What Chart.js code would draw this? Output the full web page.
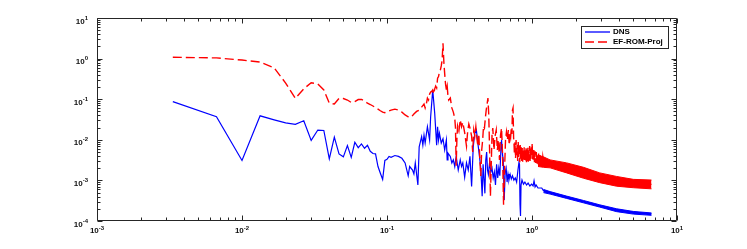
<!DOCTYPE html>
<html>
<head>
<meta charset="utf-8">
<script src="https://cdn.jsdelivr.net/npm/chart.js@4.4.0/dist/chart.umd.min.js"></script>
<style>
  html, body { margin: 0; padding: 0; background: #fff; }
</style>
</head>
<body>
<canvas id="spectrum" width="747" height="249"></canvas>
<script>
// DNS spectrum (frequency, amplitude)
const dnsFreq = [
  0.003333, 0.006667, 0.01, 0.01333, 0.01667, 0.02, 0.02333, 0.02667, 0.03, 0.03333,
  0.03667, 0.04, 0.04333, 0.04667, 0.05, 0.05333, 0.05667, 0.06, 0.06333, 0.06667,
  0.07, 0.07333, 0.07667, 0.08, 0.08333, 0.08667, 0.09, 0.09333, 0.09667, 0.1,
  0.1033, 0.1067, 0.1133, 0.12, 0.1267, 0.1333, 0.14, 0.1433, 0.15, 0.1533,
  0.1567, 0.1633, 0.1667, 0.1733, 0.1767, 0.18, 0.1833, 0.19, 0.1967, 0.2,
  0.2067, 0.21, 0.2133, 0.22, 0.2233, 0.2267, 0.23, 0.2367, 0.2433, 0.25,
  0.2567, 0.26, 0.2633, 0.2733, 0.28, 0.2867, 0.2933, 0.3, 0.31, 0.32,
  0.3267, 0.3333, 0.3433, 0.3533, 0.3633, 0.3733, 0.3833, 0.3933, 0.4033, 0.4133,
  0.4233, 0.4333, 0.4433, 0.4533, 0.46, 0.4733, 0.48, 0.4867, 0.4933, 0.5,
  0.51, 0.52, 0.53, 0.54, 0.55, 0.56, 0.57, 0.58, 0.59, 0.6,
  0.61, 0.6167, 0.6267, 0.6333, 0.6433, 0.6533, 0.6633, 0.6733, 0.6833, 0.6933,
  0.7067, 0.72, 0.7333, 0.75, 0.7667, 0.7833, 0.8, 0.8133, 0.82, 0.8267,
  0.8333, 0.84, 0.8533, 0.8733, 0.8933, 0.9167, 0.94, 0.9667, 0.9933, 1.017,
  1.033, 1.05, 1.067, 1.1, 1.167, 1.2, 1.333, 1.733, 2.267, 2.933,
  3.833, 5.0, 6.667
];
const dnsAmp = [
  0.087, 0.037, 0.0031, 0.039, 0.031, 0.026, 0.024, 0.0295, 0.0097, 0.0174,
  0.017, 0.0034, 0.0116, 0.0045, 0.0038, 0.0072, 0.0037, 0.0087, 0.0064, 0.0079,
  0.0062, 0.0073, 0.0052, 0.0046, 0.0045, 0.0022, 0.0015, 0.00106, 0.0031, 0.0033,
  0.0039, 0.0037, 0.0041, 0.0039, 0.0035, 0.0027, 0.0013, 0.0022, 0.0018, 0.00144,
  0.0027, 0.00077, 0.0067, 0.012, 0.0074, 0.013, 0.0083, 0.021, 0.0099, 0.037,
  0.169, 0.087, 0.045, 0.0074, 0.021, 0.0099, 0.0145, 0.0083, 0.0106, 0.0056,
  0.0099, 0.0032, 0.0047, 0.0039, 0.0027, 0.0032, 0.0022, 0.0039, 0.0018, 0.0032,
  0.0022, 0.0027, 0.0012, 0.0027, 0.0018, 0.0039, 0.00071, 0.0067, 0.0145, 0.0174,
  0.0083, 0.0042, 0.002, 0.00041, 0.0025, 0.00048, 0.0032, 0.005, 0.0018, 0.0014,
  0.0028, 0.0016, 0.002, 0.00115, 0.0016, 0.00077, 0.0025, 0.00115, 0.002, 0.0013,
  0.0056, 0.0099, 0.0042, 0.0032, 0.00033, 0.0016, 0.002, 0.00091, 0.00144, 0.00102,
  0.0014, 0.00108, 0.0013, 0.00102, 0.00115, 0.00091, 0.0018, 0.0028, 0.0025, 0.00025,
  0.000133, 0.00077, 0.00102, 0.00081, 0.00091, 0.00077, 0.00086, 0.00073, 0.00081, 0.00073,
  0.00097, 0.00069, 0.00077, 0.00065, 0.00065, 0.00056, 0.0005, 0.00038, 0.0003, 0.00023,
  0.00019, 0.000165, 0.00015
];

// EF-ROM-Proj spectrum (frequency, amplitude)
const projFreq = [
  0.003333, 0.006667, 0.01, 0.01333, 0.01667, 0.02, 0.02333, 0.02667, 0.03, 0.03333,
  0.03667, 0.04, 0.04333, 0.04667, 0.05, 0.05333, 0.05667, 0.06, 0.06333, 0.06667,
  0.07, 0.07333, 0.07667, 0.08, 0.08333, 0.08667, 0.09, 0.09333, 0.09667, 0.1,
  0.1067, 0.1133, 0.12, 0.1267, 0.1333, 0.14, 0.1467, 0.1533, 0.16, 0.1667,
  0.1733, 0.18, 0.1833, 0.1867, 0.19, 0.1933, 0.1967, 0.2, 0.2033, 0.2067,
  0.21, 0.2133, 0.2167, 0.22, 0.2233, 0.2267, 0.23, 0.2333, 0.2367, 0.24,
  0.2433, 0.2467, 0.25, 0.2533, 0.2567, 0.26, 0.2633, 0.2667, 0.2733, 0.28,
  0.2867, 0.2933, 0.2967, 0.3, 0.3033, 0.3067, 0.3133, 0.32, 0.3267, 0.3333,
  0.3433, 0.3533, 0.36, 0.3667, 0.3733, 0.3833, 0.39, 0.3967, 0.4033, 0.41,
  0.4167, 0.4233, 0.43, 0.4367, 0.4433, 0.45, 0.4567, 0.4633, 0.47, 0.4767,
  0.4833, 0.49, 0.4967, 0.5033, 0.51, 0.5167, 0.5233, 0.53, 0.5367, 0.5467,
  0.5567, 0.5667, 0.5767, 0.5867, 0.5967, 0.6067, 0.6167, 0.6267, 0.6367, 0.6467,
  0.6567, 0.6667, 0.6767, 0.6867, 0.6967, 0.7067, 0.7133, 0.72, 0.7267, 0.7333,
  0.74, 0.7467, 0.75, 0.7567, 0.7633, 0.77, 0.7767, 0.7833, 0.79, 0.7967,
  0.8033, 0.81, 0.8167, 0.8233, 0.83, 0.8367, 0.8433, 0.85, 0.8567, 0.8633,
  0.87, 0.8767, 0.8833, 0.89, 0.8967, 0.9033, 0.91, 0.9167, 0.9233, 0.93,
  0.9367, 0.9433, 0.95, 0.9567, 0.9633, 0.97, 0.9767, 0.9833, 0.99, 0.9967,
  1.003, 1.01, 1.017, 1.023, 1.03, 1.04, 1.05, 1.06, 1.07, 1.08,
  1.09, 1.1, 1.11, 1.12, 1.133, 1.147, 1.16, 1.173, 1.187, 1.2,
  1.333, 1.733, 2.267, 2.933, 3.833, 5.0, 6.667
];
const projAmp = [
  1.08, 1.04, 0.92, 0.82, 0.59, 0.25, 0.105, 0.18, 0.255, 0.237,
  0.169, 0.08, 0.076, 0.105, 0.104, 0.0955, 0.083, 0.087, 0.098, 0.099,
  0.09, 0.08, 0.074, 0.068, 0.062, 0.057, 0.052, 0.048, 0.0465, 0.049,
  0.054, 0.057, 0.054, 0.048, 0.041, 0.037, 0.036, 0.043, 0.05, 0.054,
  0.064, 0.076, 0.061, 0.076, 0.107, 0.0955, 0.134, 0.15, 0.155, 0.169,
  0.134, 0.18, 0.211, 0.189, 0.33, 0.36, 0.47, 0.52, 0.66, 0.92,
  2.4, 0.82, 0.42, 0.237, 0.169, 0.211, 0.12, 0.0955, 0.107, 0.061,
  0.048, 0.034, 0.0195, 0.0023, 0.0099, 0.022, 0.0165, 0.031, 0.021, 0.027,
  0.015, 0.007, 0.016, 0.0245, 0.0195, 0.0124, 0.005, 0.0174, 0.0124, 0.021,
  0.0111, 0.007, 0.0139, 0.0032, 0.00128, 0.0056, 0.0099, 0.022, 0.0195, 0.034,
  0.054, 0.076, 0.107, 0.041, 0.0056, 0.00041, 0.0023, 0.013, 0.0195, 0.0056,
  0.0124, 0.0174, 0.0056, 0.0099, 0.0032, 0.013, 0.0195, 0.0042, 0.00025, 0.0018,
  0.0099, 0.0156, 0.0099, 0.0174, 0.0074, 0.0156, 0.0124, 0.0195, 0.0139, 0.054,
  0.061, 0.0111, 0.0095, 0.0045, 0.0088, 0.0035, 0.0099, 0.0042, 0.0075, 0.003,
  0.0088, 0.0038, 0.0072, 0.0028, 0.0074, 0.0034, 0.0065, 0.003, 0.0063, 0.0027,
  0.006, 0.0032, 0.0066, 0.0029, 0.0058, 0.0031, 0.0062, 0.0028, 0.0058, 0.003,
  0.0064, 0.0029, 0.0055, 0.0031, 0.007, 0.003, 0.006, 0.0034, 0.0065, 0.004,
  0.0084, 0.0033, 0.006, 0.003, 0.0056, 0.0028, 0.0052, 0.0027, 0.005, 0.0026,
  0.0047, 0.0025, 0.0046, 0.0024, 0.0042, 0.0023, 0.004, 0.0022, 0.0038, 0.0028,
  0.0026, 0.002, 0.00154, 0.00116, 0.00095, 0.00084, 0.0008
];

// high-frequency envelopes (the oscillation bands)
const projBandFreq = [1.1, 1.2, 1.333, 1.733, 2.267, 2.933, 3.833, 5.0, 6.667];
const projUpper = [0.0042, 0.0038, 0.0032, 0.0027, 0.0021, 0.00153, 0.00125, 0.00106, 0.00102];
const projLower = [0.0022, 0.0021, 0.00204, 0.00153, 0.00113, 0.00088, 0.00072, 0.00066, 0.00062];
const dnsBandFreq = [1.2, 1.333, 1.733, 2.267, 2.933, 3.833, 5.0, 6.667];
const dnsUpper = [0.0006, 0.00053, 0.00041, 0.00032, 0.00025, 0.0002, 0.000172, 0.000158];
const dnsLower = [0.0005, 0.00046, 0.00036, 0.00028, 0.00022, 0.00017, 0.000148, 0.000138];

// axes
const xTickValues = [0.001, 0.01, 0.1, 1, 10];
const xTickExps = ['-3', '-2', '-1', '0', '1'];
const yTickValues = [0.0001, 0.001, 0.01, 0.1, 1, 10];
const yTickExps = ['-4', '-3', '-2', '-1', '0', '1'];
const minorSteps = [2, 3, 4, 5, 6, 7, 8, 9];
const seriesLabels = ['DNS', 'EF-ROM-Proj'];

const BLUE = '#0000ff';
const RED = '#ff0000';
const AXIS = '#262626';
const DASH = [9, 4];
const FONT = '"Liberation Sans", Arial, sans-serif';

const toPoints = (xs, ys) => xs.map((x, i) => ({ x, y: ys[i] }));

const frame = {
  id: 'frame',
  beforeDraw(chart) {
    const { ctx } = chart;
    ctx.save();
    ctx.fillStyle = '#fff';
    ctx.fillRect(0, 0, chart.width, chart.height);
    ctx.restore();
  },
  afterDatasetsDraw(chart) {
    const { ctx, chartArea: a, scales: { x, y } } = chart;
    const L = a.left + 0.5, R = a.right - 0.5, T = a.top + 0.5, B = a.bottom - 0.5;
    ctx.save();
    ctx.strokeStyle = AXIS;
    ctx.lineWidth = 1;
    ctx.beginPath();
    ctx.rect(L, T, R - L, B - T);

    // inward ticks on all four sides
    const tickSet = (values) => {
      const out = [];
      values.forEach((v, i) => {
        out.push({ v, major: true });
        if (i < values.length - 1) minorSteps.forEach(m => out.push({ v: v * m, major: false }));
      });
      return out;
    };
    for (const t of tickSet(xTickValues)) {
      const p = Math.round(x.getPixelForValue(t.v)) + 0.5;
      const len = t.major ? 5 : 3;
      ctx.moveTo(p, B); ctx.lineTo(p, B - len);
      ctx.moveTo(p, T); ctx.lineTo(p, T + len);
    }
    for (const t of tickSet(yTickValues)) {
      const p = Math.round(y.getPixelForValue(t.v)) + 0.5;
      const len = t.major ? 5 : 3;
      ctx.moveTo(L, p); ctx.lineTo(L + len, p);
      ctx.moveTo(R, p); ctx.lineTo(R - len, p);
    }
    ctx.stroke();

    // tick labels: 10 with raised exponent
    ctx.fillStyle = '#111';
    const base = `bold 8px ${FONT}`;
    const sup = `bold 6px ${FONT}`;
    xTickValues.forEach((v, i) => {
      const p = x.getPixelForValue(v);
      ctx.font = base; const wb = ctx.measureText('10').width;
      ctx.font = sup; const we = ctx.measureText(xTickExps[i]).width;
      const start = p - (wb + we) / 2;
      ctx.textAlign = 'left';
      ctx.font = base; ctx.fillText('10', start, a.bottom + 12);
      ctx.font = sup; ctx.fillText(xTickExps[i], start + wb, a.bottom + 8.5);
    });
    yTickValues.forEach((v, i) => {
      const p = y.getPixelForValue(v);
      ctx.font = sup; const we = ctx.measureText(yTickExps[i]).width;
      ctx.textAlign = 'right';
      ctx.fillText(yTickExps[i], 88, p + 1.5);
      ctx.font = base; ctx.fillText('10', 88 - we, p + 5.5);
    });

    // legend
    ctx.fillStyle = '#fff';
    ctx.fillRect(581, 26, 87, 22);
    ctx.strokeStyle = AXIS;
    ctx.strokeRect(581.5, 26.5, 87, 22);
    ctx.lineWidth = 1.3;
    ctx.strokeStyle = BLUE;
    ctx.beginPath(); ctx.moveTo(585, 32); ctx.lineTo(610, 32); ctx.stroke();
    ctx.strokeStyle = RED;
    ctx.setLineDash(DASH);
    ctx.beginPath(); ctx.moveTo(585, 42); ctx.lineTo(610, 42); ctx.stroke();
    ctx.setLineDash([]);
    ctx.fillStyle = '#000';
    ctx.font = base;
    ctx.textAlign = 'left';
    ctx.textBaseline = 'middle';
    ctx.fillText(seriesLabels[0], 613, 32);
    ctx.fillText(seriesLabels[1], 613, 42);
    ctx.restore();
  },
};

const line = (data, color, extra) => Object.assign({
  data, borderColor: color, backgroundColor: color, borderWidth: 1.3,
  pointRadius: 0, tension: 0, fill: false,
}, extra);

new Chart(document.getElementById('spectrum'), {
  type: 'line',
  data: {
    datasets: [
      line(toPoints(projFreq, projAmp), RED, { label: seriesLabels[1], borderDash: DASH, borderWidth: 1.4 }),
      line(toPoints(projBandFreq, projUpper), RED, { borderWidth: 1, fill: '+1' }),
      line(toPoints(projBandFreq, projLower), RED, { borderWidth: 1 }),
      line(toPoints(dnsFreq, dnsAmp), BLUE, { label: seriesLabels[0], borderWidth: 1.2 }),
      line(toPoints(dnsBandFreq, dnsUpper), BLUE, { borderWidth: 1, fill: '+1' }),
      line(toPoints(dnsBandFreq, dnsLower), BLUE, { borderWidth: 1 }),
    ],
  },
  options: {
    responsive: false,
    animation: false,
    devicePixelRatio: 1,
    layout: { padding: { left: 0, right: 70, top: 18, bottom: 0 } },
    plugins: { legend: { display: false }, tooltip: { enabled: false } },
    scales: {
      x: {
        type: 'logarithmic', min: 0.001, max: 10,
        grid: { display: false }, border: { display: false }, ticks: { display: false },
        afterFit: s => { s.height = 28; },
      },
      y: {
        type: 'logarithmic', min: 0.0001, max: 10,
        grid: { display: false }, border: { display: false }, ticks: { display: false },
        afterFit: s => { s.width = 97; },
      },
    },
  },
  plugins: [frame],
});
</script>
</body>
</html>
